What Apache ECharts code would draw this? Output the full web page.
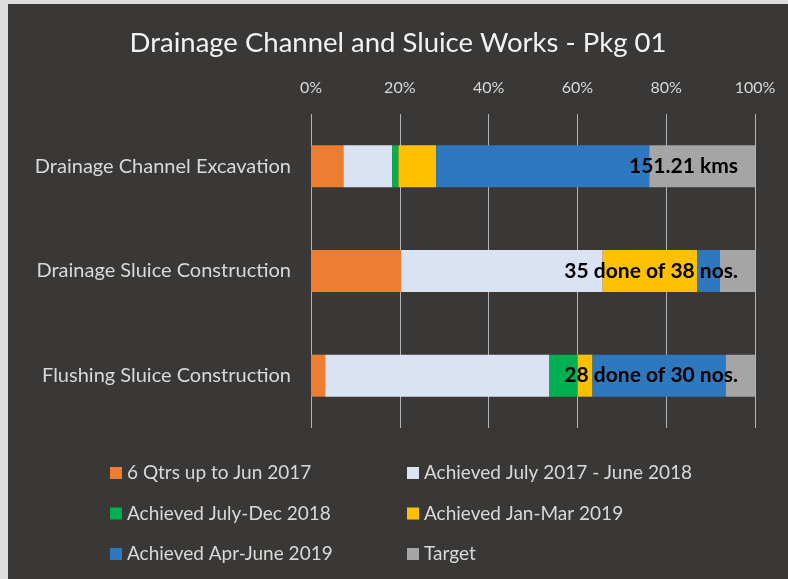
<!DOCTYPE html>
<html>
<head>
<meta charset="utf-8">
<script src="https://cdn.jsdelivr.net/npm/echarts@6/dist/echarts.min.js"></script>
<style>
  html, body { margin: 0; padding: 0; background: #dcdcdc; }
  #main { position: absolute; left: 8px; top: 4px; width: 780px; height: 575px; }
</style>
</head>
<body>
<div id="main"></div>
<script>
// categories, top to bottom
var categories = ['Drainage Channel Excavation', 'Drainage Sluice Construction', 'Flushing Sluice Construction'];
var seriesNames = ['6 Qtrs up to Jun 2017', 'Achieved July 2017 - June 2018', 'Achieved July-Dec 2018',
  'Achieved Jan-Mar 2019', 'Achieved Apr-June 2019', 'Target'];
// share of each stage, in percent
var qtrs6 = [7.3, 20.3, 3.2];
var jul17Jun18 = [11.0, 45.4, 50.5];
var julDec18 = [1.4, 0, 6.4];
var janMar19 = [8.5, 21.3, 3.3];
var aprJun19 = [48.0, 5.1, 30.0];
var target = [23.8, 7.9, 6.6];
var barLabels = ['151.21 kms', '35 done of 38 nos.', '28 done of 30 nos.'];
var tickValues = [0, 20, 40, 60, 80, 100];

var colors = ['#ED7D31', '#DAE3F3', '#00B050', '#FFC000', '#2E78C0', '#A5A5A5'];
var font = 'Lato, "Open Sans", sans-serif';

var chart = echarts.init(document.getElementById('main'));

var values = [qtrs6, jul17Jun18, julDec18, janMar19, aprJun19, target];
var series = [];
for (var i = 0; i < values.length; i++) {
  var s = {
    name: seriesNames[i],
    type: 'bar',
    stack: 'all',
    barWidth: 42,
    data: values[i],
    itemStyle: { color: colors[i] }
  };
  if (i == values.length - 1) {
    // the text labels sit at the right end of each bar
    s.label = {
      show: true,
      position: 'insideRight',
      distance: 17,
      color: '#000',
      fontFamily: font,
      fontWeight: 'bold',
      fontSize: 21,
      formatter: function (p) { return barLabels[p.dataIndex]; }
    };
  }
  series.push(s);
}

var legendText = { color: '#d9d9d9', fontSize: 19, fontFamily: font, lineHeight: 22 };

var option = {
  backgroundColor: '#3a3836',
  animation: false,
  color: colors,
  title: {
    text: 'Drainage Channel and Sluice Works - Pkg 01',
    left: 'center',
    top: 25,
    padding: 0,
    textStyle: { color: '#f2f2f2', fontSize: 27.5, fontWeight: 'normal', fontFamily: font }
  },
  legend: [
    {
      orient: 'vertical', left: 102, top: 458, itemGap: 18.5, padding: 0,
      itemWidth: 12, itemHeight: 12, icon: 'rect',
      data: [seriesNames[0], seriesNames[2], seriesNames[4]],
      textStyle: legendText
    },
    {
      orient: 'vertical', left: 399, top: 458, itemGap: 18.5, padding: 0,
      itemWidth: 12, itemHeight: 12, icon: 'rect',
      data: [seriesNames[1], seriesNames[3], seriesNames[5]],
      textStyle: legendText
    }
  ],
  grid: { left: 303, top: 110, width: 444, height: 314 },
  xAxis: {
    type: 'value',
    position: 'top',
    min: tickValues[0],
    max: tickValues[tickValues.length - 1],
    interval: 20,
    axisLine: { show: false },
    axisTick: { show: false },
    axisLabel: { color: '#d9d9d9', fontSize: 16, fontFamily: font, margin: 18, formatter: '{value}%' },
    splitLine: { lineStyle: { color: '#b4b4b4', width: 1 } }
  },
  yAxis: {
    type: 'category',
    inverse: true,
    data: categories,
    axisLine: { show: false },
    axisTick: { show: false },
    axisLabel: { color: '#d9d9d9', fontSize: 20, fontFamily: font, margin: 20 }
  },
  series: series
};

chart.setOption(option);
</script>
</body>
</html>
